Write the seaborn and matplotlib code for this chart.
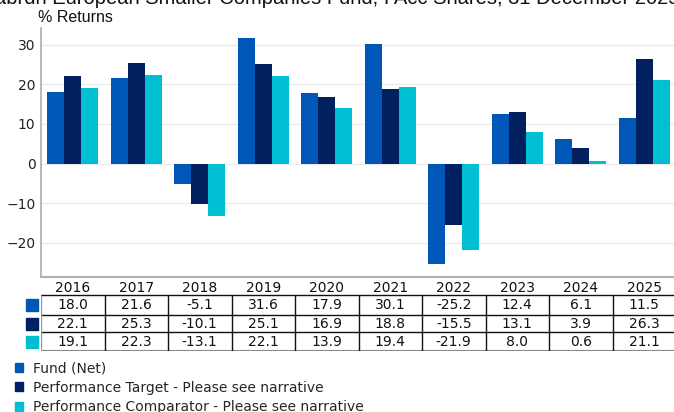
import seaborn as sns
import pandas as pd
import matplotlib.pyplot as plt
from matplotlib.patches import Rectangle

years = ["2016", "2017", "2018", "2019", "2020", "2021", "2022", "2023", "2024", "2025"]
fund = [18.0, 21.6, -5.1, 31.6, 17.9, 30.1, -25.2, 12.4, 6.1, 11.5]
target = [22.1, 25.3, -10.1, 25.1, 16.9, 18.8, -15.5, 13.1, 3.9, 26.3]
comparator = [19.1, 22.3, -13.1, 22.1, 13.9, 19.4, -21.9, 8.0, 0.6, 21.1]
series_names = ["Fund (Net)",
                "Performance Target - Please see narrative",
                "Performance Comparator - Please see narrative"]
colors = ["#0057b8", "#002060", "#00bfd2"]
title = "abrdn European Smaller Companies Fund, I Acc Shares, 31 December 2025"

rows = [fund, target, comparator]
df = pd.DataFrame({
    "year": years * 3,
    "value": fund + target + comparator,
    "series": [s for s in series_names for _ in years],
})

sns.set_theme(style="white")
plt.rcParams["font.family"] = ["DejaVu Sans"]

W, H = 674, 412
fig = plt.figure(figsize=(W / 100, H / 100), dpi=100)

# main bar axes (pixel box: x 41..676, y 28..277)
ax = fig.add_axes([41 / W, 1 - 277 / H, 635 / W, 249 / H])
sns.barplot(data=df, x="year", y="value", hue="series", palette=colors,
            width=0.8, saturation=1, ax=ax, legend=False, linewidth=0)
ax.set_ylim(-28.6, 34.2)
ax.set_xlim(-0.5, 9.5)
ax.set_yticks([-20, -10, 0, 10, 20, 30])
ax.tick_params(axis="y", labelsize=10, labelcolor="#222222", length=0, pad=4)
ax.set_xticks([])
ax.set_xlabel("")
ax.set_ylabel("")
ax.yaxis.grid(True, color="#ebebf0", linewidth=1)
ax.set_axisbelow(True)
for s in ["top", "right"]:
    ax.spines[s].set_visible(False)
ax.spines["left"].set_color("#b0b0b0")
ax.spines["bottom"].set_color("#b0b0b0")
ax.spines["bottom"].set_linewidth(1.5)

fig.text(38 / W, 1 - 22 / H, "% Returns", family="Liberation Sans",
         fontsize=11.5, va="baseline", ha="left", color="#111111")
fig.text(0.5, 1 - 4 / H, title, family="Liberation Sans", fontsize=14.5,
         va="baseline", ha="center", color="#111111")

# data table below the chart (pixel box: y 280..351)
tax = fig.add_axes([41 / W, 1 - 351 / H, 635 / W, 71 / H])
tax.set_xlim(-0.5, 9.5)
tax.set_ylim(0, 71)
tax.axis("off")
row_edges = [56, 36, 19, 0]
for i, y in enumerate(row_edges):
    tax.axhline(y, color="#888888" if i == 3 else "#111111",
                linewidth=1.5 if i == 3 else 1)
for k in range(len(years)):
    tax.vlines(k - 0.5, 0, 56, color="#999999" if k == 0 else "#111111",
               linewidth=1)
for k, yr in enumerate(years):
    tax.text(k, 63, yr, ha="center", va="center", fontsize=10, color="#111111")
    for r, vals in enumerate(rows):
        yc = (row_edges[r] + row_edges[r + 1]) / 2
        tax.text(k, yc, f"{vals[k]:.1f}", ha="center", va="center",
                 fontsize=10, color="#111111")

for r, c in enumerate(colors):
    yc = 351 - (row_edges[r] + row_edges[r + 1]) / 2
    fig.patches.append(Rectangle((26 / W, 1 - (yc + 6) / H), 12 / W, 12 / H,
                                 transform=fig.transFigure, color=c))

handles = [Rectangle((0, 0), 1, 1, color=c) for c in colors]
fig.legend(handles, series_names, loc="upper left",
           bbox_to_anchor=(15 / W, 1 - 361 / H), frameon=False, fontsize=10,
           handlelength=0.6, handleheight=0.6, handletextpad=0.7,
           labelspacing=0.4, borderpad=0, borderaxespad=0)

fig.savefig("out.png", dpi=100)
